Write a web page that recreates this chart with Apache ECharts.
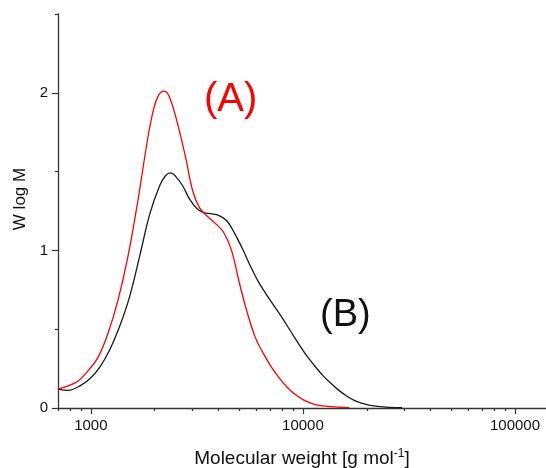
<!DOCTYPE html>
<html>
<head>
<meta charset="utf-8">
<script src="https://cdn.jsdelivr.net/npm/echarts@6/dist/echarts.min.js"></script>
<style>html,body{margin:0;padding:0;background:#fff}#c{width:546px;height:468px}</style>
</head>
<body>
<div id="c"></div>
<script>
// Molecular weight (g/mol) and W log M values
const seriesAName = '(A)';
const seriesAM = [700, 780, 870, 968, 1079, 1202, 1340, 1493, 1664, 1854, 1979, 2089, 2205, 2327, 2511, 2798, 3018, 3256, 3551, 3873, 4224, 4606, 5023, 5477, 5974, 6514, 7103, 7745, 8445, 9210, 10045, 10952, 11944, 14050, 16530];
const seriesAY = [0.12, 0.14, 0.17, 0.235, 0.32, 0.47, 0.68, 0.955, 1.31, 1.71, 1.90, 1.985, 2.01, 1.985, 1.85, 1.59, 1.38, 1.27, 1.215, 1.17, 1.115, 1.0, 0.79, 0.6, 0.445, 0.345, 0.26, 0.19, 0.13, 0.085, 0.052, 0.03, 0.017, 0.007, 0.003];

const seriesBName = '(B)';
const seriesBM = [700, 780, 888, 989, 1102, 1228, 1369, 1526, 1700, 1895, 2111, 2253, 2378, 2511, 2709, 2922, 3152, 3400, 3709, 4000, 4363, 4758, 5188, 5657, 6170, 6729, 7337, 8000, 8724, 9513, 10375, 11313, 12340, 13460, 14680, 16000, 17450, 19030, 20750, 24680, 29360];
const seriesBY = [0.12, 0.112, 0.14, 0.185, 0.26, 0.37, 0.52, 0.71, 0.965, 1.23, 1.41, 1.475, 1.492, 1.47, 1.41, 1.325, 1.268, 1.24, 1.232, 1.222, 1.19, 1.11, 1.01, 0.90, 0.80, 0.72, 0.645, 0.57, 0.49, 0.41, 0.335, 0.27, 0.21, 0.16, 0.115, 0.078, 0.048, 0.03, 0.017, 0.006, 0.002];

const xMajorTicks = [1000, 10000, 100000];
const xMinorTicks = [700, 800, 900, 2000, 3000, 4000, 5000, 6000, 7000, 8000, 9000, 20000, 30000, 40000, 50000, 60000, 70000, 80000, 90000];
const yMajorTicks = [0, 1, 2];
const yMinorTicks = [0.5, 1.5, 2.5];

const xMin = 700, xMax = 140000;
const yMin = 0, yMax = 2.5;

const FONT = '"Liberation Sans", Arial, sans-serif';
const AXIS_COLOR = '#333';

const chart = echarts.init(document.getElementById('c'), null, {renderer: 'canvas'});

const pairs = (xs, ys) => xs.map((x, i) => [x, ys[i]]);

chart.setOption({
  animation: false,
  backgroundColor: '#fff',
  grid: {left: 58, right: 0, top: 14, bottom: 60, containLabel: false, outerBoundsMode: 'none'},
  xAxis: [
    {
      type: 'log', logBase: 10, min: xMin, max: xMax, position: 'bottom',
      name: 'Molecular weight [g mol{sup|-1}]',
      nameLocation: 'middle', nameGap: 40,
      nameTextStyle: {
        fontFamily: FONT, fontSize: 19, color: '#111',
        rich: {sup: {fontFamily: FONT, fontSize: 12, verticalAlign: 'top', padding: [0, 0, 9, 0], color: '#111'}}
      },
      axisLine: {show: true, lineStyle: {color: AXIS_COLOR, width: 1.3}},
      axisTick: {show: true, inside: false, length: 6, customValues: xMajorTicks, lineStyle: {color: AXIS_COLOR, width: 1.2}},
      axisLabel: {show: true, customValues: xMajorTicks, margin: 10, fontFamily: FONT, fontSize: 15, color: '#111', formatter: v => String(Math.round(v))},
      splitLine: {show: false}, minorTick: {show: false}
    },
    {
      // minor ticks drawn on a log10-space axis spanning the same range
      type: 'value', min: Math.log10(xMin), max: Math.log10(xMax), position: 'bottom', offset: 0,
      axisLine: {show: false},
      axisTick: {show: true, inside: false, length: 3, customValues: xMinorTicks.map(v => Math.log10(v)), lineStyle: {color: AXIS_COLOR, width: 1.2}},
      axisLabel: {show: false},
      splitLine: {show: false}
    }
  ],
  yAxis: [
    {
      type: 'value', min: yMin, max: yMax, position: 'left',
      name: 'W log M', nameLocation: 'middle', nameGap: 22, nameRotate: 90,
      nameTextStyle: {fontFamily: FONT, fontSize: 17, color: '#111', padding: [0, 0, 0, 24]},
      axisLine: {show: true, lineStyle: {color: AXIS_COLOR, width: 1.3}},
      axisTick: {show: true, inside: false, length: 6, customValues: yMajorTicks, lineStyle: {color: AXIS_COLOR, width: 1.2}},
      axisLabel: {show: true, customValues: yMajorTicks, margin: 10, fontFamily: FONT, fontSize: 15, color: '#111'},
      splitLine: {show: false}
    },
    {
      type: 'value', min: yMin, max: yMax, position: 'left', offset: 0,
      axisLine: {show: false},
      axisTick: {show: true, inside: false, length: 3, customValues: yMinorTicks, lineStyle: {color: AXIS_COLOR, width: 1.2}},
      axisLabel: {show: false},
      splitLine: {show: false}
    }
  ],
  series: [
    {
      name: seriesBName, type: 'line', xAxisIndex: 0, yAxisIndex: 0,
      data: pairs(seriesBM, seriesBY), smooth: 0.35, showSymbol: false, symbol: 'none',
      lineStyle: {color: '#1a1a1a', width: 1.3}, z: 3
    },
    {
      name: seriesAName, type: 'line', xAxisIndex: 0, yAxisIndex: 0,
      data: pairs(seriesAM, seriesAY), smooth: 0.35, showSymbol: false, symbol: 'none',
      lineStyle: {color: '#ff0000', width: 1.3}, z: 4
    }
  ],
  graphic: [
    {type: 'text', left: 204, top: 80, style: {text: seriesAName, fontFamily: FONT, fontSize: 40, fill: '#ff0000'}},
    {type: 'text', left: 320, top: 297, style: {text: seriesBName, fontFamily: FONT, fontSize: 38, fill: '#111'}}
  ]
});
</script>
</body>
</html>
